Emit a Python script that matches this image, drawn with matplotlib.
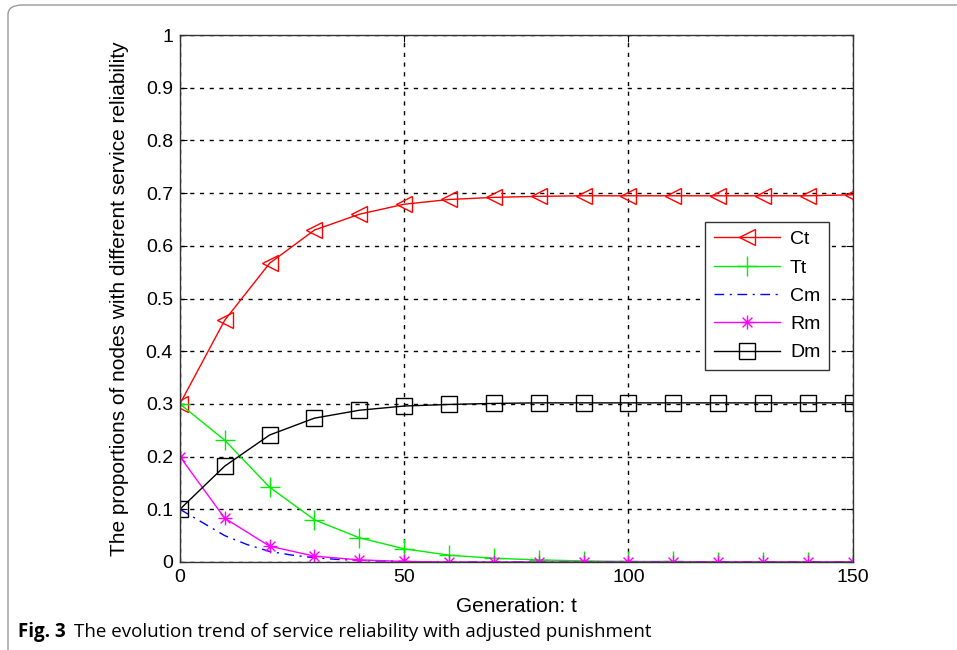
import matplotlib
matplotlib.use("Agg")
import numpy as np
import matplotlib.pyplot as plt
from matplotlib.patches import FancyBboxPatch
from matplotlib.path import Path

t = [0, 10, 20, 30, 40, 50, 60, 70, 80, 90, 100, 110, 120, 130, 140, 150]
ct = [0.300, 0.459, 0.567, 0.630, 0.660, 0.679, 0.688, 0.692, 0.694, 0.695, 0.695, 0.695, 0.695, 0.695, 0.695, 0.697]
tt = [0.300, 0.231, 0.142, 0.080, 0.046, 0.025, 0.013, 0.007, 0.004, 0.002, 0.001, 0.001, 0.000, 0.000, 0.000, 0.000]
rm = [0.200, 0.083, 0.030, 0.011, 0.004, 0.001, 0.000, 0.000, 0.000, 0.000, 0.000, 0.000, 0.000, 0.000, 0.000, 0.000]
dm = [0.100, 0.182, 0.241, 0.273, 0.288, 0.296, 0.299, 0.301, 0.302, 0.302, 0.302, 0.302, 0.302, 0.302, 0.302, 0.302]
t_cm = [0, 5, 10, 15, 20, 25, 30, 35, 40, 45, 50, 60, 150]
cm = [0.100, 0.075, 0.050, 0.033, 0.020, 0.013, 0.008, 0.005, 0.003, 0.002, 0.001, 0.000, 0.000]

xticks = [0, 50, 100, 150]
yticks = [0, 0.1, 0.2, 0.3, 0.4, 0.5, 0.6, 0.7, 0.8, 0.9, 1]
ytick_labels = ["0", "0.1", "0.2", "0.3", "0.4", "0.5", "0.6", "0.7", "0.8", "0.9", "1"]

plt.rcParams['font.family'] = ['Liberation Sans', 'DejaVu Sans']

# MATLAB-style asterisk marker (+ and x combined)
d = 0.7071
verts = [(-1, 0), (1, 0), (0, -1), (0, 1), (-d, -d), (d, d), (-d, d), (d, -d)]
codes = [Path.MOVETO, Path.LINETO] * 4
asterisk = Path(verts, codes)

fig = plt.figure(figsize=(9.57, 6.5), dpi=100)
ax = fig.add_axes([0.188, 0.1354, 0.703, 0.8106])

lw = 1.0
ax.plot(t, ct, color='#ff0000', lw=lw, marker='<', ms=11, mfc='none', mew=1.0, label='Ct')
ax.plot(t, tt, color='#00ee00', lw=lw, marker='+', ms=14, mew=1.0, label='Tt')
ax.plot(t_cm, cm, color='#0000ff', lw=lw, ls=(0, (7, 4, 1.5, 4)), label='Cm')
ax.plot(t, rm, color='#ff00ff', lw=lw, marker=asterisk, ms=10, mfc='none', mew=1.0, label='Rm')
ax.plot(t, dm, color='#000000', lw=lw, marker='s', ms=11, mfc='none', mew=1.0, label='Dm')

ax.set_xlim(0, 150)
ax.set_ylim(0, 1)
ax.set_xticks(xticks)
ax.set_yticks(yticks)
ax.set_yticklabels(ytick_labels)
ax.tick_params(direction='in', labelsize=14, length=5, width=0.8, top=True, right=True, pad=5)
ax.grid(True, color='black', ls=(0, (3, 4)), lw=1.0)
for s in ax.spines.values():
    s.set_linewidth(1.0)
    s.set_color('#333333')

ax.set_xlabel('Generation: t', fontsize=15, labelpad=8)
ax.set_ylabel('The proportions of nodes with different service reliability', fontsize=15, labelpad=12)

leg = ax.legend(loc='upper left', bbox_to_anchor=(0.7666, 0.664), fontsize=14, frameon=True,
                fancybox=False, edgecolor='#333333', framealpha=1, handlelength=3.4,
                borderpad=0.45, labelspacing=0.55, handletextpad=0.5)
leg.get_frame().set_linewidth(1.0)

# figure border
border = FancyBboxPatch((8 / 957, -0.05), 1.2, 1.0 - 5 / 650 + 0.05, transform=fig.transFigure,
                        boxstyle='round,pad=0,rounding_size=0.015', fill=False,
                        edgecolor='#9a9a9a', lw=1.0, clip_on=False)
fig.patches.append(border)

fig.text(18 / 957, 1 - 632 / 650, 'Fig. 3', fontsize=13.5, fontweight='bold', family=['Open Sans', 'DejaVu Sans'], va='center')
fig.text(74 / 957, 1 - 632 / 650, 'The evolution trend of service reliability with adjusted punishment', fontsize=13.5,
         family=['Open Sans', 'DejaVu Sans'], va='center')

fig.savefig('out.png', dpi=100)
